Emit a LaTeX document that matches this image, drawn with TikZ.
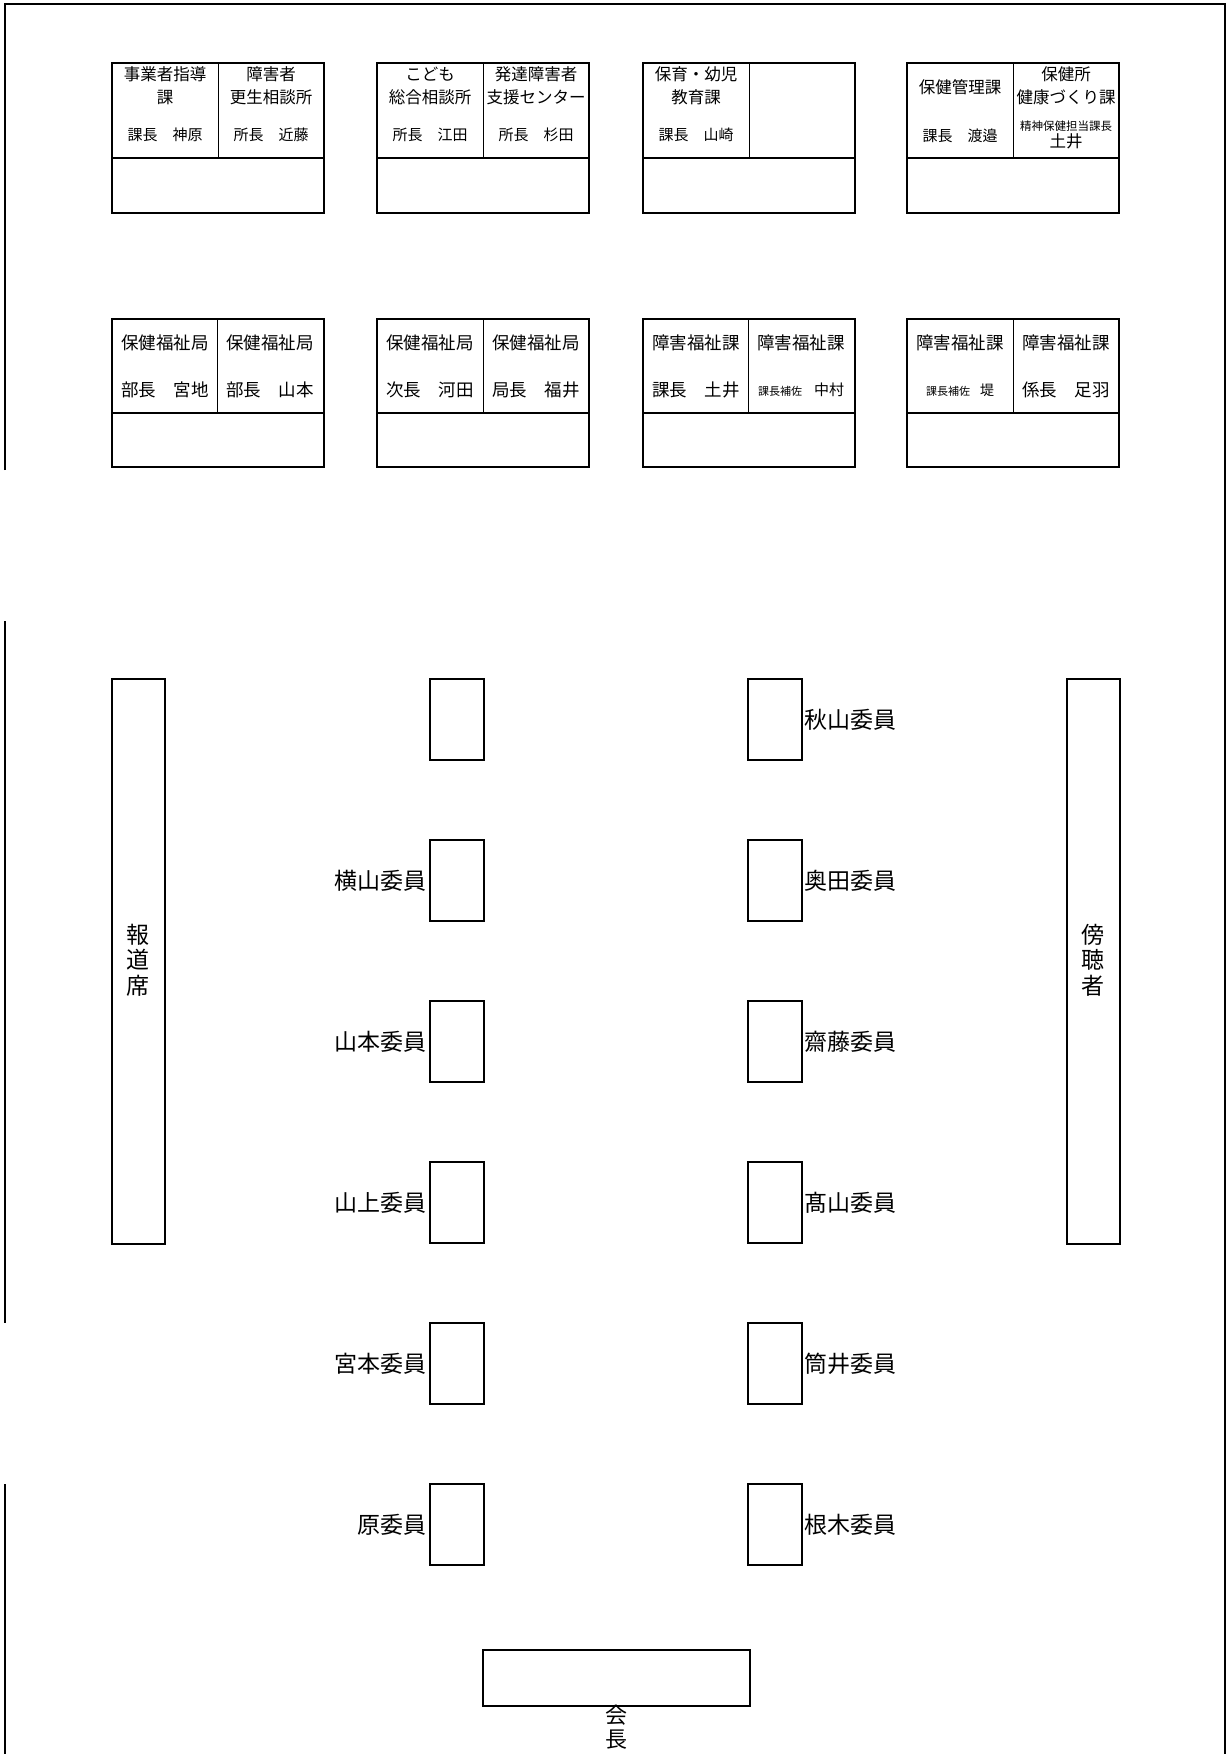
\documentclass[tikz,border=0pt]{standalone}
\usepackage{fontspec}
\setmainfont{Noto Sans CJK JP}
\begin{document}
\begin{tikzpicture}[x=1pt,y=-1pt,
  frameline/.style={line width=2pt},
  outerbox/.style={draw, line width=1.6pt},
  divline/.style={line width=0.9pt},
  headtxt/.style={inner sep=0pt, align=center, font=\fontsize{16.5}{23}\selectfont},
  nametxt/.style={inner sep=0pt, align=center, font=\fontsize{15}{18}\selectfont},
  headtxtb/.style={inner sep=0pt, align=center, font=\fontsize{17.5}{22}\selectfont},
  nametxtb/.style={inner sep=0pt, align=center, font=\fontsize{17.5}{22}\selectfont},
  seat/.style={draw, line width=1.6pt, minimum width=54pt, minimum height=81pt, inner sep=0pt, anchor=north west},
  seatlbl/.style={inner sep=0pt, font=\fontsize{23}{26}\selectfont},
  bench/.style={draw, line width=1.6pt, minimum width=53pt, minimum height=565pt, inner sep=0pt, anchor=north west},
  vtxt/.style={inner sep=0pt, align=center, font=\fontsize{23}{25.7}\selectfont}
]
\useasboundingbox (0,0) rectangle (1227,1754);
% page frame
\draw[frameline] (5,470) -- (5,4) -- (1225,4) -- (1225,1754);
\draw[frameline] (5,621) -- (5,1323);
\draw[frameline] (5,1484) -- (5,1754);

% ---------- Row 1 desks ----------
\foreach \L/\M in {112/218, 377/483, 643/749, 907/1013}{
  \draw[outerbox] (\L,63) rectangle ({\L+212},213);
  \draw[outerbox] (\L,158) -- ({\L+212},158);
  \draw[divline] (\M,63) -- (\M,158);
}
% ---------- Row 2 desks ----------
\foreach \L/\M in {112/217, 377/483, 643/748, 907/1013}{
  \draw[outerbox] (\L,319) rectangle ({\L+212},467);
  \draw[outerbox] (\L,413) -- ({\L+212},413);
  \draw[divline] (\M,319) -- (\M,413);
}

% Row 1 texts
\node[headtxt] (h11) at (165,85.5) {事業者指導\\課};
\node[nametxt] (n11) at (165,135) {課長　神原};
\node[headtxt] (h12) at (271,85.5) {障害者\\更生相談所};
\node[nametxt] (n12) at (271,135) {所長　近藤};
\node[headtxt] (h21) at (430,85.5) {こども\\総合相談所};
\node[nametxt] (n21) at (430,135) {所長　江田};
\node[headtxt] (h22) at (536,85.5) {発達障害者\\支援センター};
\node[nametxt] (n22) at (536,135) {所長　杉田};
\node[headtxt] (h31) at (696,85.5) {保育・幼児\\教育課};
\node[nametxt] (n31) at (696,135) {課長　山崎};
\node[headtxt] (h41) at (960,87) {保健管理課};
\node[nametxt] (n41) at (960,136) {課長　渡邉};
\node[headtxt] (h42) at (1066,85.5) {保健所\\健康づくり課};
\node[inner sep=0pt, font=\fontsize{11.5}{12}\selectfont] (s42) at (1066,126) {精神保健担当課長};
\node[inner sep=0pt, font=\fontsize{16.5}{18}\selectfont] (n42) at (1066,141) {土井};

% Row 2 texts
\node[headtxtb] (h51) at (165,343) {保健福祉局};
\node[nametxtb] (n51) at (165,390) {部長　宮地};
\node[headtxtb] (h52) at (270,343) {保健福祉局};
\node[nametxtb] (n52) at (270,390) {部長　山本};
\node[headtxtb] (h61) at (430,343) {保健福祉局};
\node[nametxtb] (n61) at (430,390) {次長　河田};
\node[headtxtb] (h62) at (536,343) {保健福祉局};
\node[nametxtb] (n62) at (536,390) {局長　福井};
\node[headtxtb] (h71) at (696,343) {障害福祉課};
\node[nametxtb] (n71) at (696,390) {課長　土井};
\node[headtxtb] (h72) at (801,343) {障害福祉課};
\node[inner sep=0pt, font=\fontsize{15}{18}\selectfont] (n72) at (801,390) {{\fontsize{11}{12}\selectfont 課長補佐}\hspace{12pt}中村};
\node[headtxtb] (h81) at (960,343) {障害福祉課};
\node[inner sep=0pt, font=\fontsize{14}{18}\selectfont] (n81) at (960,390) {{\fontsize{11}{12}\selectfont 課長補佐}\hspace{10pt}堤};
\node[headtxtb] (h82) at (1066,343) {障害福祉課};
\node[nametxtb] (n82) at (1066,390) {係長　足羽};

% ---------- Committee seats ----------
\node[seat] (L0) at (429,678) {};
\node[seat] (L1) at (429,839) {};
\node[seat] (L2) at (429,1000) {};
\node[seat] (L3) at (429,1161) {};
\node[seat] (L4) at (429,1322) {};
\node[seat] (L5) at (429,1483) {};
\node[seat] (R0) at (747,678) {};
\node[seat] (R1) at (747,839) {};
\node[seat] (R2) at (747,1000) {};
\node[seat] (R3) at (747,1161) {};
\node[seat] (R4) at (747,1322) {};
\node[seat] (R5) at (747,1483) {};

\node[seatlbl, anchor=east] (tL1) at ([xshift=-2pt]L1.west) {横山委員};
\node[seatlbl, anchor=east] (tL2) at ([xshift=-2pt]L2.west) {山本委員};
\node[seatlbl, anchor=east] (tL3) at ([xshift=-2pt]L3.west) {山上委員};
\node[seatlbl, anchor=east] (tL4) at ([xshift=-2pt]L4.west) {宮本委員};
\node[seatlbl, anchor=east] (tL5) at ([xshift=-2pt]L5.west) {原委員};
\node[seatlbl, anchor=west] (tR0) at ([xshift=2pt]R0.east) {秋山委員};
\node[seatlbl, anchor=west] (tR1) at ([xshift=2pt]R1.east) {奥田委員};
\node[seatlbl, anchor=west] (tR2) at ([xshift=2pt]R2.east) {齋藤委員};
\node[seatlbl, anchor=west] (tR3) at ([xshift=2pt]R3.east) {髙山委員};
\node[seatlbl, anchor=west] (tR4) at ([xshift=2pt]R4.east) {筒井委員};
\node[seatlbl, anchor=west] (tR5) at ([xshift=2pt]R5.east) {根木委員};

% ---------- Press and audience benches ----------
\node[bench] (press) at (111,678) {};
\node[vtxt] (presst) at (137.5,960) {報\\道\\席};
\node[bench] (aud) at (1066,678) {};
\node[vtxt] (audt) at (1092.5,960) {傍\\聴\\者};

% ---------- Chair ----------
\node[draw, line width=1.8pt, minimum width=267pt, minimum height=56pt, inner sep=0pt, anchor=north west] (chair) at (482,1649) {};
\node[inner sep=0pt, align=center, font=\fontsize{22}{24}\selectfont, anchor=north] (chairt) at ([yshift=2pt]chair.south) {会\\長};
\end{tikzpicture}
\end{document}
